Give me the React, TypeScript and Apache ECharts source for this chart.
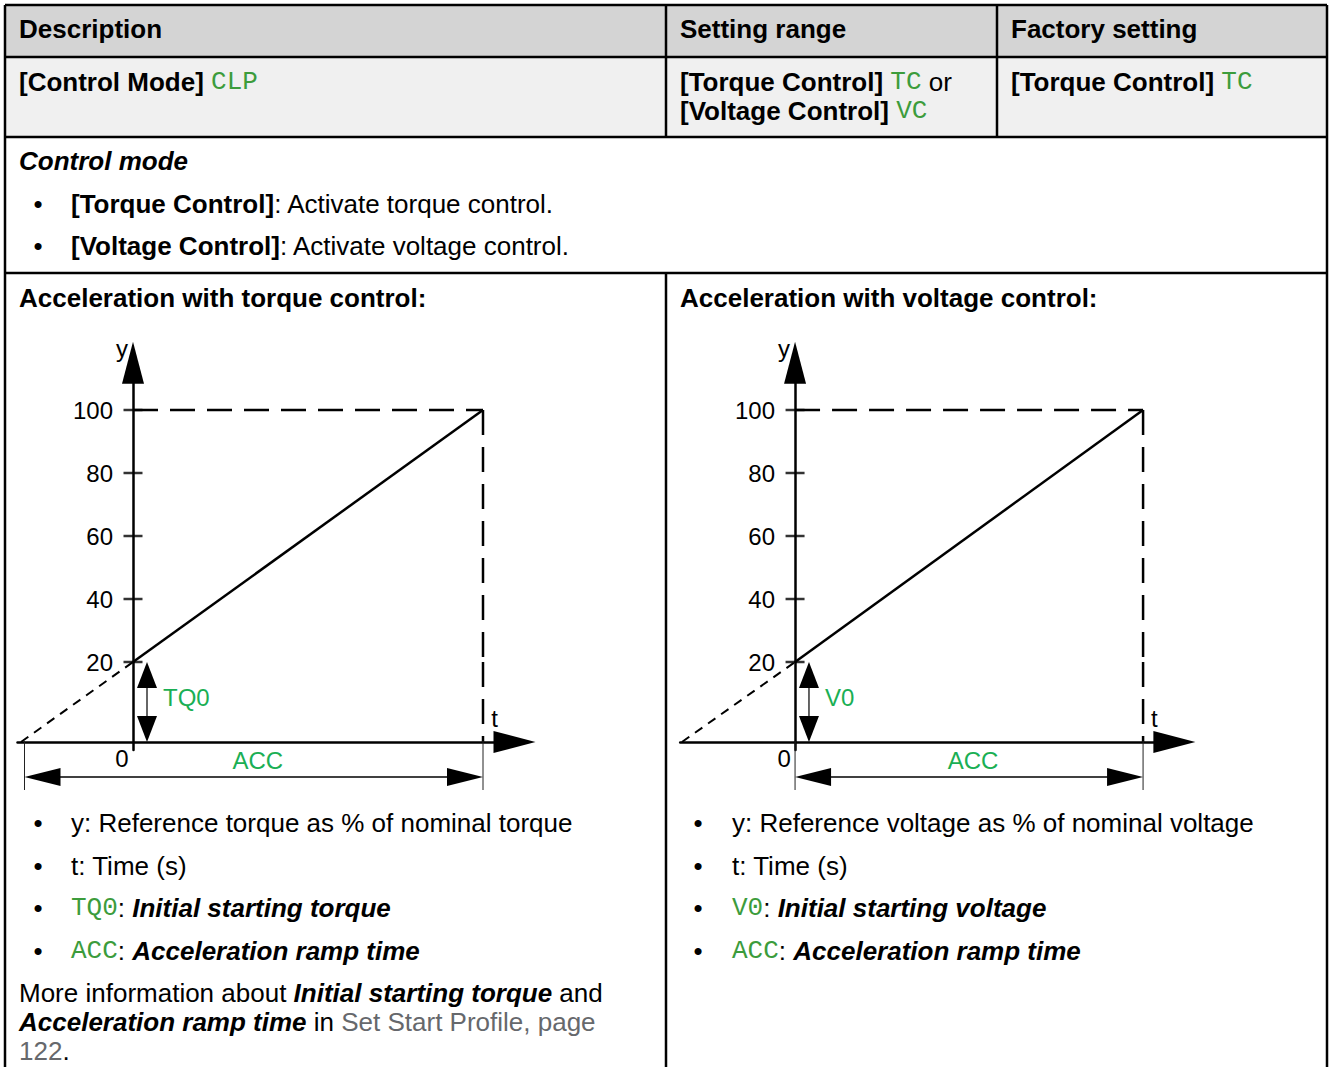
import React, { useEffect, useRef } from "react";
import * as echarts from "echarts";

// ---------- data ----------
const yTickValues = [20, 40, 60, 80, 100]; // % of nominal
const rampTime = [0, 10]; // t from 0 to ACC (ACC drawn as 10 time units)
const rampLevel = [20, 100]; // reference level along the ramp (%)
const accTime = 10;
const initialLevel = 20; // TQ0 / V0
const fullLevel = 100;
const extensionStart = [-3.2, -3.25]; // dashed back-extension meets t axis (left, right chart)
const accSpanStart = [-3.1, 0]; // ACC dimension start (left, right chart)
const levelArrowTime = 0.4; // where the TQ0 / V0 double arrow is drawn
const tMin = -3.3;
const tMax = 10.9;
const yTopMax = 115;
const yBottomMin = -2;
const levelLabels = ["TQ0", "V0"];
const chartTitles = ["Acceleration with torque control:", "Acceleration with voltage control:"];
const leftBullets = [
  "y: Reference torque as % of nominal torque",
  "t: Time (s)",
  "{m|TQ0}: {bi|Initial starting torque}",
  "{m|ACC}: {bi|Acceleration ramp time}",
];
const rightBullets = [
  "y: Reference voltage as % of nominal voltage",
  "t: Time (s)",
  "{m|V0}: {bi|Initial starting voltage}",
  "{m|ACC}: {bi|Acceleration ramp time}",
];
const moreInfo = [
  "More information about {bi|Initial starting torque} and",
  "{bi|Acceleration ramp time} in {link|Set Start Profile, page}",
  "{link|122}.",
];

// ---------- styles ----------
const SANS = "'Liberation Sans', Arial, Helvetica, sans-serif";
const MONO = "'Liberation Mono', 'Courier New', monospace";
const MONO_GREEN = "#3c9c3c";
const CHART_GREEN = "#1aaf54";
const FS = 26;
const CFS = 24;

const RICH: any = {
  b: { fontSize: FS, fontFamily: SANS, fontWeight: "bold", fill: "#000" },
  bi: { fontSize: FS, fontFamily: SANS, fontWeight: "bold", fontStyle: "italic", fill: "#000" },
  m: { fontSize: FS, fontFamily: MONO, fontWeight: "normal", fill: MONO_GREEN },
  link: { fontSize: FS, fontFamily: SANS, fill: "#66686c" },
};

function T(x: number, y: number, text: string, extra: any = {}) {
  return {
    type: "text",
    x,
    y,
    silent: true,
    z: 10,
    style: {
      text,
      fill: "#000",
      fontSize: FS,
      fontFamily: SANS,
      align: "left",
      verticalAlign: "middle",
      rich: RICH,
      ...extra,
    },
  };
}

function L(x1: number, y1: number, x2: number, y2: number, w = 2.5, color = "#000") {
  return { type: "line", silent: true, z: 10, shape: { x1, y1, x2, y2 }, style: { stroke: color, lineWidth: w } };
}

function P(points: number[][], color = "#000") {
  return { type: "polygon", silent: true, z: 10, shape: { points }, style: { fill: color } };
}

function tableGraphics() {
  const g: any[] = [];
  const left = 5, right = 1327, top = 5;
  g.push({ type: "rect", silent: true, z: 1, shape: { x: left, y: top, width: right - left, height: 52 }, style: { fill: "#d4d4d4" } });
  g.push({ type: "rect", silent: true, z: 1, shape: { x: left, y: 57, width: right - left, height: 80 }, style: { fill: "#f0f0f0" } });
  g.push(L(left, top, right, top));
  g.push(L(left, top, left, 1080));
  g.push(L(right, top, right, 1080));
  g.push(L(left, 57, right, 57));
  g.push(L(left, 137, right, 137));
  g.push(L(left, 273, right, 273));
  g.push(L(666, top, 666, 137));
  g.push(L(997, top, 997, 137));
  g.push(L(666, 273, 666, 1080));

  g.push(T(19, 29, "{b|Description}"));
  g.push(T(680, 29, "{b|Setting range}"));
  g.push(T(1011, 29, "{b|Factory setting}"));

  g.push(T(19, 82, "{b|[Control Mode]} {m|CLP}"));
  g.push(T(680, 82, "{b|[Torque Control]} {m|TC} or"));
  g.push(T(680, 111, "{b|[Voltage Control]} {m|VC}"));
  g.push(T(1011, 82, "{b|[Torque Control]} {m|TC}"));

  g.push(T(19, 161, "{bi|Control mode}"));
  g.push(T(38, 204, "•", { align: "center" }));
  g.push(T(71, 204, "{b|[Torque Control]}: Activate torque control."));
  g.push(T(38, 246, "•", { align: "center" }));
  g.push(T(71, 246, "{b|[Voltage Control]}: Activate voltage control."));

  g.push(T(19, 298, "{b|" + chartTitles[0] + "}"));
  g.push(T(680, 298, "{b|" + chartTitles[1] + "}"));

  const rowY = [823, 866, 908, 951];
  leftBullets.forEach((s, i) => {
    g.push(T(38, rowY[i], "•", { align: "center" }));
    g.push(T(71, rowY[i], s));
  });
  rightBullets.forEach((s, i) => {
    g.push(T(698, rowY[i], "•", { align: "center" }));
    g.push(T(732, rowY[i], s));
  });
  const infoY = [993, 1022, 1051];
  moreInfo.forEach((s, i) => g.push(T(19, infoY[i], s)));
  return g;
}

function annotationGraphics(chart: any) {
  const g: any[] = [];
  for (let c = 0; c < 2; c++) {
    const A = 2 * c, B = 2 * c + 1;
    const px = (gi: number, t: number, v: number) => chart.convertToPixel({ gridIndex: gi }, [t, v]) as number[];
    const origin = px(B, 0, 0);
    const top = px(A, 0, yTopMax);
    const end = px(B, tMax, 0);
    const accX = px(B, accTime, 0)[0];

    // axis names and origin
    g.push(T(origin[0] - 11, top[1] - 14, "y", { fontSize: CFS, align: "center" }));
    g.push(T(end[0] - 20, origin[1] - 24, "t", { fontSize: CFS, align: "center" }));
    g.push(T(origin[0] - 11, origin[1] + 16, "0", { fontSize: CFS, align: "center" }));

    // initial level double arrow (TQ0 / V0)
    const a = px(B, levelArrowTime, initialLevel);
    const b = px(B, levelArrowTime, 0);
    const ah = 26, aw = 10;
    g.push(L(a[0], a[1] + ah - 2, b[0], b[1] - ah + 2, 1.5, "#333"));
    g.push(P([[a[0], a[1]], [a[0] - aw, a[1] + ah], [a[0] + aw, a[1] + ah]]));
    g.push(P([[b[0], b[1]], [b[0] - aw, b[1] - ah], [b[0] + aw, b[1] - ah]]));
    g.push(T(a[0] + 16, (a[1] + b[1]) / 2 - 5, levelLabels[c], { fontSize: CFS, fill: CHART_GREEN }));

    // ACC dimension
    const xL = px(B, accSpanStart[c], 0)[0];
    const xR = accX;
    const dy = origin[1] + 35;
    g.push(L(xL, origin[1] - 1, xL, origin[1] + 48, 1, "#222"));
    g.push(L(xR, origin[1] - 1, xR, origin[1] + 48, 1, "#222"));
    g.push(L(xL + 20, dy, xR - 20, dy, 1.5, "#000"));
    g.push(P([[xL, dy], [xL + 36, dy - 9], [xL + 36, dy + 9]]));
    g.push(P([[xR, dy], [xR - 36, dy - 9], [xR - 36, dy + 9]]));
    g.push(T((xL + xR) / 2 + 4, origin[1] + 18, "ACC", { fontSize: CFS, fill: CHART_GREEN, align: "center" }));
  }
  return g;
}

function buildOption() {
  const grids: any[] = [];
  const xAxes: any[] = [];
  const yAxes: any[] = [];
  const series: any[] = [];
  const gridLefts = [17.5, 680.2];
  const gridWidths = [497, 494.2];
  const axisLineStyle = { color: "#000", width: 2.5 };
  const solid = { color: "#000", width: 2.5, type: "solid" };
  const dashed = { color: "#000", width: 2.5, type: [25, 12] };

  for (let c = 0; c < 2; c++) {
    const A = 2 * c, B = 2 * c + 1;
    grids.push({ left: gridLefts[c], top: 362.75, width: gridWidths[c], height: 299.25, outerBoundsMode: "none" });
    grids.push({ left: gridLefts[c], top: 662, width: gridWidths[c], height: 88, outerBoundsMode: "none" });
    // y axes sit at t = 0: shift them from the grid's left edge by the scale's own distance
    const yAxisOffset = tMin * (gridWidths[c] / (tMax - tMin));

    xAxes.push({ type: "value", gridIndex: A, min: tMin, max: tMax, show: false });
    xAxes.push({
      type: "value", gridIndex: B, min: tMin, max: tMax,
      axisLine: { show: true, onZero: true, symbol: ["none", "triangle"], symbolSize: [22, 42], lineStyle: axisLineStyle },
      axisTick: { show: false }, axisLabel: { show: false }, splitLine: { show: false },
    });
    yAxes.push({
      type: "value", gridIndex: A, min: initialLevel, max: yTopMax, interval: 20, position: "left", offset: yAxisOffset,
      axisLine: { show: true, onZero: false, symbol: ["none", "triangle"], symbolSize: [22, 42], lineStyle: axisLineStyle },
      axisTick: { show: false }, splitLine: { show: false },
      axisLabel: {
        color: "#000", fontSize: CFS, fontFamily: SANS, margin: 20,
        formatter: (v: number) => (yTickValues.includes(v) ? String(v) : ""),
      },
    });
    yAxes.push({
      type: "value", gridIndex: B, min: yBottomMin, max: initialLevel, position: "left", offset: yAxisOffset,
      axisLine: { show: true, onZero: false, lineStyle: axisLineStyle },
      axisTick: { show: false }, axisLabel: { show: false }, splitLine: { show: false },
    });

    const common = { symbol: "none", silent: true, animation: false };
    series.push({ ...common, type: "line", xAxisIndex: A, yAxisIndex: A, data: rampTime.map((t, i) => [t, rampLevel[i]]), lineStyle: solid });
    series.push({ ...common, type: "line", xAxisIndex: A, yAxisIndex: A, data: [[0, fullLevel], [accTime, fullLevel]], lineStyle: dashed });
    series.push({ ...common, type: "line", xAxisIndex: A, yAxisIndex: A, data: [[accTime, fullLevel], [accTime, initialLevel]], lineStyle: dashed });
    series.push({ ...common, type: "line", xAxisIndex: B, yAxisIndex: B, data: [[accTime, initialLevel], [accTime, 0]], lineStyle: dashed });
    series.push({ ...common, type: "line", xAxisIndex: B, yAxisIndex: B, data: [[extensionStart[c], 0], [0, initialLevel]], lineStyle: { color: "#000", width: 2, type: [9, 7] } });
    series.push({
      type: "scatter", xAxisIndex: A, yAxisIndex: A, silent: true, animation: false,
      data: yTickValues.map((v) => [0, v]), symbol: "rect", symbolSize: [19, 2.5], itemStyle: { color: "#000" },
    });
  }

  return {
    animation: false,
    backgroundColor: "#fff",
    grid: grids,
    xAxis: xAxes,
    yAxis: yAxes,
    series,
  };
}

export default function App() {
  const ref = useRef<HTMLDivElement>(null);
  useEffect(() => {
    if (!ref.current) return;
    const chart = echarts.init(ref.current, null, { renderer: "svg", width: 1330, height: 1067 });
    chart.setOption(buildOption() as any);
    chart.setOption({ graphic: [...tableGraphics(), ...annotationGraphics(chart)] } as any);
    return () => chart.dispose();
  }, []);
  return (
    <div
      ref={ref}
      style={{ position: "absolute", left: 0, top: 0, width: 1330, height: 1067, background: "#fff" }}
    />
  );
}
